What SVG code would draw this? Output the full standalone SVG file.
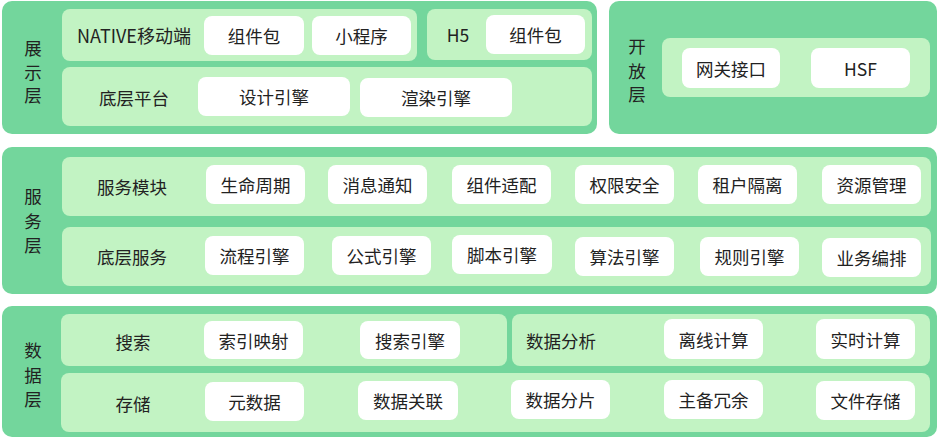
<svg xmlns="http://www.w3.org/2000/svg" width="939" height="439" viewBox="0 0 939 439">
<style>
.outer{fill:#73d69c}
.inner{fill:#c2f3c3}
.box{fill:#ffffff}
text{font-family:"Noto Sans CJK SC","Noto Sans",sans-serif;font-size:17.5px;fill:#222222;text-anchor:middle;dominant-baseline:central}
</style>
<rect width="939" height="439" fill="#ffffff"/>
<g id="layer-display">
<rect class="outer" x="2" y="1" width="595" height="133" rx="10"/>
<text x="33" y="47">展</text><text x="33" y="71">示</text><text x="33" y="94">层</text>
<g id="row-native">
<rect class="inner" x="62" y="9" width="355" height="52" rx="8"/>
<text x="134" y="34.5" style="font-size:18px">NATIVE移动端</text>
<g id="native-comp"><rect class="box" x="204" y="16" width="100" height="39" rx="8"/><text x="254" y="35.5">组件包</text></g>
<g id="miniprogram"><rect class="box" x="312" y="16" width="99" height="39" rx="8"/><text x="361.5" y="35.5">小程序</text></g>
</g>
<g id="row-h5">
<rect class="inner" x="427" y="9" width="165" height="51" rx="8"/>
<text x="458" y="34.5">H5</text>
<g id="h5-comp"><rect class="box" x="486" y="15" width="99" height="39" rx="8"/><text x="535.5" y="34.5">组件包</text></g>
</g>
<g id="row-platform">
<rect class="inner" x="62" y="67" width="530" height="59" rx="8"/>
<text x="134" y="97">底层平台</text>
<g id="design-engine"><rect class="box" x="198" y="77" width="152" height="39" rx="8"/><text x="274" y="96.5">设计引擎</text></g>
<g id="render-engine"><rect class="box" x="360" y="78" width="152" height="39" rx="8"/><text x="436" y="97.5">渲染引擎</text></g>
</g>
</g>
<g id="layer-open">
<rect class="outer" x="609" y="1" width="328" height="133" rx="10"/>
<text x="637" y="45">开</text><text x="637" y="70">放</text><text x="637" y="93">层</text>
<rect class="inner" x="662" y="38" width="268" height="59" rx="8"/>
<g id="gateway"><rect class="box" x="682" y="48" width="98" height="40" rx="8"/><text x="731" y="68">网关接口</text></g>
<g id="hsf"><rect class="box" x="811" y="48" width="99" height="40" rx="8"/><text x="860.5" y="68">HSF</text></g>
</g>
<g id="layer-service">
<rect class="outer" x="2" y="147" width="935" height="147" rx="10"/>
<text x="33" y="195">服</text><text x="33" y="220">务</text><text x="33" y="244">层</text>
<g id="row-modules">
<rect class="inner" x="62" y="157" width="869" height="59" rx="8"/>
<text x="132" y="186">服务模块</text>
<g id="lifecycle"><rect class="box" x="206" y="165" width="99" height="39" rx="8"/><text x="255.5" y="184.5">生命周期</text></g>
<g id="message"><rect class="box" x="328" y="165" width="99" height="39" rx="8"/><text x="377.5" y="184.5">消息通知</text></g>
<g id="adapter"><rect class="box" x="452" y="165" width="99" height="39" rx="8"/><text x="501.5" y="184.5">组件适配</text></g>
<g id="security"><rect class="box" x="575" y="165" width="99" height="39" rx="8"/><text x="624.5" y="184.5">权限安全</text></g>
<g id="tenant"><rect class="box" x="698" y="165" width="99" height="39" rx="8"/><text x="747.5" y="184.5">租户隔离</text></g>
<g id="resource"><rect class="box" x="822" y="165" width="99" height="39" rx="8"/><text x="871.5" y="184.5">资源管理</text></g>
</g>
<g id="row-base">
<rect class="inner" x="62" y="227" width="869" height="59" rx="8"/>
<text x="132" y="256">底层服务</text>
<g id="flow"><rect class="box" x="205" y="236" width="99" height="39" rx="8"/><text x="254.5" y="255.5">流程引擎</text></g>
<g id="formula"><rect class="box" x="332" y="236" width="99" height="39" rx="8"/><text x="381.5" y="255.5">公式引擎</text></g>
<g id="script"><rect class="box" x="452" y="235" width="100" height="39" rx="8"/><text x="502" y="254.5">脚本引擎</text></g>
<g id="algorithm"><rect class="box" x="575" y="237" width="99" height="39" rx="8"/><text x="624.5" y="256.5">算法引擎</text></g>
<g id="rule"><rect class="box" x="700" y="237" width="99" height="39" rx="8"/><text x="749.5" y="256.5">规则引擎</text></g>
<g id="orchestration"><rect class="box" x="822" y="238" width="99" height="39" rx="8"/><text x="871.5" y="257.5">业务编排</text></g>
</g>
</g>
<g id="layer-data">
<rect class="outer" x="2" y="306" width="935" height="131" rx="10"/>
<text x="33" y="349">数</text><text x="33" y="374">据</text><text x="33" y="398">层</text>
<g id="row-search">
<rect class="inner" x="61" y="314" width="446" height="52" rx="8"/>
<text x="133" y="341">搜索</text>
<g id="index"><rect class="box" x="204" y="321" width="99" height="38" rx="8"/><text x="253.5" y="340">索引映射</text></g>
<g id="search-engine"><rect class="box" x="360" y="321" width="100" height="38" rx="8"/><text x="410" y="340">搜索引擎</text></g>
</g>
<g id="row-analysis">
<rect class="inner" x="512" y="314" width="418" height="52" rx="8"/>
<text x="561" y="340">数据分析</text>
<g id="offline"><rect class="box" x="664" y="319" width="99" height="40" rx="8"/><text x="713.5" y="339">离线计算</text></g>
<g id="realtime"><rect class="box" x="816" y="319" width="99" height="40" rx="8"/><text x="865.5" y="339">实时计算</text></g>
</g>
<g id="row-storage">
<rect class="inner" x="61" y="373" width="869" height="59" rx="8"/>
<text x="133" y="403">存储</text>
<g id="metadata"><rect class="box" x="205" y="382" width="99" height="39" rx="8"/><text x="254.5" y="401.5">元数据</text></g>
<g id="relation"><rect class="box" x="358" y="381" width="100" height="39" rx="8"/><text x="408" y="400.5">数据关联</text></g>
<g id="sharding"><rect class="box" x="511" y="380" width="99" height="39" rx="8"/><text x="560.5" y="399.5">数据分片</text></g>
<g id="redundancy"><rect class="box" x="664" y="380" width="99" height="39" rx="8"/><text x="713.5" y="399.5">主备冗余</text></g>
<g id="file"><rect class="box" x="816" y="381" width="99" height="39" rx="8"/><text x="865.5" y="400.5">文件存储</text></g>
</g>
</g>
<g id="connectors"></g>
</svg>
